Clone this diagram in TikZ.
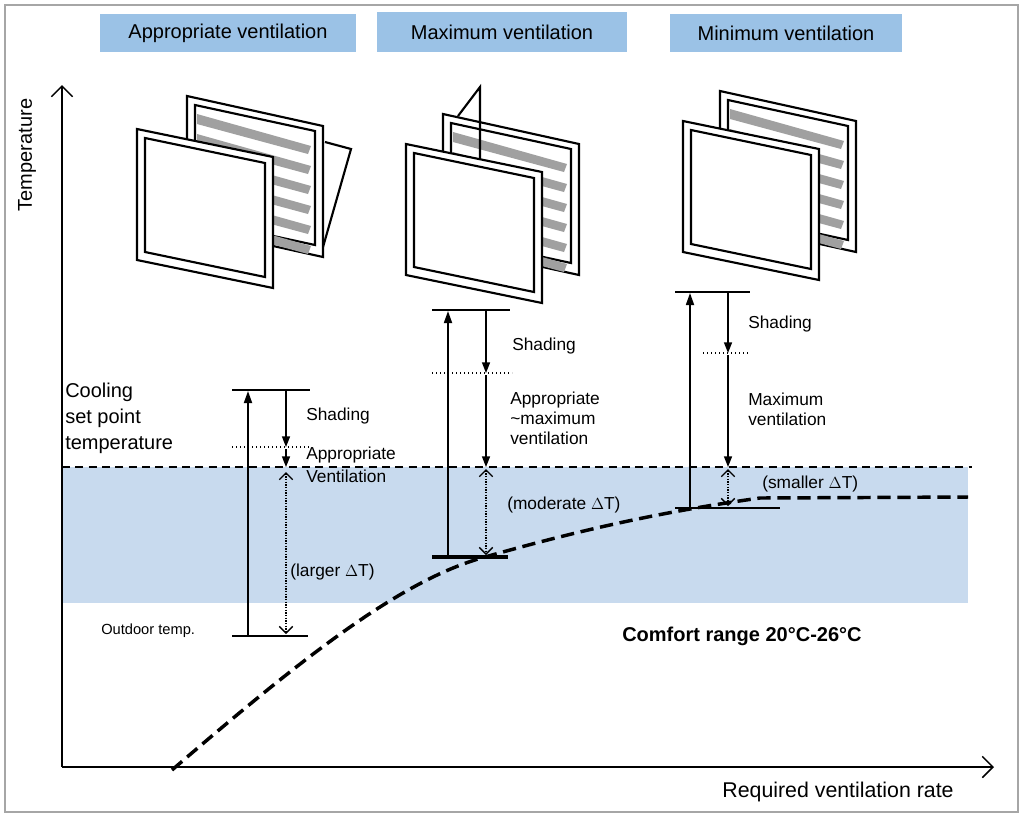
\documentclass[tikz,border=0pt]{standalone}
\usepackage{fontspec}
\setmainfont{Liberation Sans}
\usetikzlibrary{arrows.meta}
\definecolor{band}{RGB}{200,218,238}
\definecolor{hdr}{RGB}{155,194,230}
\definecolor{slat}{RGB}{160,160,160}
\newcommand{\panel}[2]{% front TL x,y
  \draw[line width=1.6pt,fill=white] (#1,#2) -- ++(136,28) -- ++(0,131) -- ++(-136,-28) -- cycle;
  \draw[line width=1.6pt] (#1+8,#2+9) -- ++(120,25) -- ++(0,114) -- ++(-120,-25) -- cycle;}
\newcommand{\louver}[2]{% back TL x,y
  \draw[line width=1.6pt,fill=white] (#1,#2) -- ++(136,30) -- ++(0,131) -- ++(-136,-30) -- cycle;
  \draw[line width=1.6pt] (#1+8,#2+9) -- ++(120,26) -- ++(0,114) -- ++(-120,-26) -- cycle;
  \foreach \k in {0,...,5}{\fill[slat] (#1+10,#2+18+\k*20) -- ++(114,32) -- ++(-3,8) -- ++(-111,-30) -- cycle;}}
\tikzset{bar/.style={line width=1.3pt},
 up/.style={line width=1.3pt,-{Triangle[length=9pt,width=6pt]}},
 dn/.style={line width=1.1pt,-{Triangle[length=8pt,width=6pt]}},
 dd/.style={densely dotted,line width=1pt,{Straight Barb[length=5pt,width=10pt]}-{Straight Barb[length=5pt,width=10pt]}},
 dl/.style={dotted,line width=1pt},
 lab/.style={anchor=west,inner sep=0pt,font=\fontsize{13}{15}\selectfont},
 hd/.style={fill=hdr,inner sep=0pt,font=\fontsize{15}{18}\selectfont}}
\begin{document}
\begin{tikzpicture}[x=0.75pt,y=-0.75pt]
\useasboundingbox (0,0) rectangle (1024,819);
\draw[gray!70,line width=0.8pt] (5,5) rectangle (1018,812);
% band
\fill[band] (62,467) rectangle (968,603);
\draw[dashed,line width=1.1pt,dash pattern=on 6pt off 4pt] (62,467) -- (972,467);
% axes
\coordinate (O) at (62,767); \coordinate (Y) at (62,85); \coordinate (X) at (994,767);
\draw[line width=1.1pt,-{Straight Barb[length=8pt,width=16pt]}] (O) -- (Y);
\draw[line width=1.1pt,-{Straight Barb[length=8pt,width=16pt]}] (O) -- (X);
\node[rotate=90,font=\fontsize{15}{18}\selectfont] (tl) at (27,155) {Temperature};
\node[font=\fontsize{16}{18}\selectfont] (xl) at (838,792) {Required ventilation rate};
% curve
\draw[line width=2.6pt,dash pattern=on 10pt off 5pt] (172,770) .. controls (300,660) and (400,580) .. (485,557) .. controls (580,530) and (660,512) .. (760,498) -- (968,497);
% headers
\node[hd,minimum width=256*0.75pt,minimum height=38*0.75pt] (h1) at (228,33) {Appropriate ventilation};
\node[hd,minimum width=250*0.75pt,minimum height=40*0.75pt] (h2) at (502,32) {Maximum ventilation};
\node[hd,minimum width=232*0.75pt,minimum height=38*0.75pt] (h3) at (786,33) {Minimum ventilation};
% grille 1
\draw[line width=1.6pt,fill=white] (325,142) -- (351,149) -- (323,247);
\louver{187}{96}
\panel{137}{129}
% grille 2
\louver{443}{114}
\draw[line width=1.6pt] (458,116) -- (480,87) -- (480,160);
\panel{406}{144}
% grille 3
\louver{720}{91}
\panel{683}{121}
% group 1
\draw[bar] (232,390) -- (310,390); \draw[bar] (232,636) -- (308,636);
\draw[up] (248,636) -- (248,391);
\draw[dn] (286,390) -- (286,447);
\draw[dl] (232,447) -- (310,447);
\draw[dn] (286,449) -- (286,467);
\draw[dd] (286,472) -- (286,634);
\node[lab] (s1) at (306,416) {Shading};
\node[lab] (a1) at (306,455) {Appropriate};
\node[lab] (v1) at (306,476) {Ventilation};
\node[lab] (l1) at (290,572) {(larger $\Delta$T)};
\node[lab,font=\fontsize{11}{13}\selectfont] (o1) at (101,631) {Outdoor temp.};
\node[anchor=north west,align=left,inner sep=0pt,font=\fontsize{15}{19.5}\selectfont] (c1) at (65,383) {Cooling\\set point\\temperature};
% group 2
\draw[bar] (432,310) -- (510,310); \draw[line width=2.4pt] (432,557) -- (508,557);
\draw[up] (448,557) -- (448,311);
\draw[dn] (486,310) -- (486,373);
\draw[dl] (432,373) -- (512,373);
\draw[dn] (486,375) -- (486,467);
\draw[dd] (486,469) -- (486,555);
\node[lab] (s2) at (512,346) {Shading};
\node[lab,align=left,anchor=north west] (a2) at (510,392) {Appropriate\\\textasciitilde maximum\\ventilation};
\node[lab] (m2) at (507,505) {(moderate $\Delta$T)};
% group 3
\draw[bar] (675,292) -- (750,292); \draw[bar] (675,508) -- (780,508);
\draw[up] (690,508) -- (690,293);
\draw[dn] (728,292) -- (728,353);
\draw[dl] (703,353) -- (750,353);
\draw[dn] (728,355) -- (728,467);
\draw[dd] (728,469) -- (728,506);
\node[lab] (s3) at (748,324) {Shading};
\node[lab,align=left,anchor=north west] (a3) at (748,393) {Maximum\\ventilation};
\node[lab] (m3) at (762,484) {(smaller $\Delta$T)};
\node[anchor=west,inner sep=0pt,font=\bfseries\fontsize{15}{18}\selectfont] (cr) at (622,636) {Comfort range 20°C-26°C};
\end{tikzpicture}
\end{document}
